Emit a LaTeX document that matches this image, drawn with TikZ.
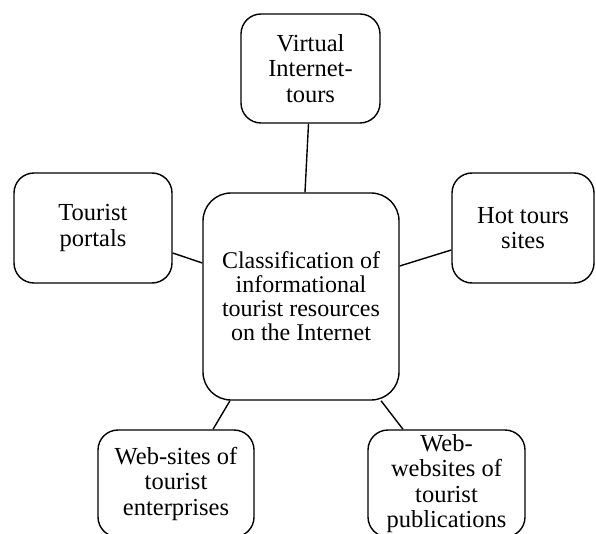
\documentclass[tikz,border=0pt]{standalone}
\usepackage{fontspec}
\setmainfont{Liberation Serif}
\usetikzlibrary{calc}
\begin{document}
\begin{tikzpicture}[x=1pt,y=-1pt,
  box/.style={draw, line width=1.4pt, rounded corners=20pt, align=center,
    inner sep=0pt, font=\fontsize{24.5}{25.5}\selectfont},
  link/.style={line width=1.4pt}]
\useasboundingbox (0,0) rectangle (596,534);
\clip (0,0) rectangle (596,534);
% outer topics
\node[box, minimum width=139pt, minimum height=109pt] (virt) at (310.5,68.5) {Virtual\\Internet-\\tours};
\node[box, minimum width=158pt, minimum height=110pt] (portals) at (93,228) {Tourist\\portals};
\node[box, minimum width=142pt, minimum height=110pt] (hot) at (523,228) {Hot tours\\sites};
\node[box, minimum width=156pt, minimum height=107pt] (ent) at (176,483.5) {Web-sites of\\tourist\\enterprises};
\node[box, minimum width=157pt, minimum height=107pt] (pub) at (446.5,483.5) {Web-\\websites of\\tourist\\publications};
% central topic
\node[box, rounded corners=28pt, minimum width=196pt, minimum height=207pt,
  font=\fontsize{24}{24}\selectfont] (core) at (301,296.5)
  {Classification of\\informational\\tourist resources\\on the Internet};
% connectors
\draw[link] ($(virt.south)+(-2,0)$) -- ($(core.north)+(4,0)$);
\draw[link] ($(portals.east)+(0,25)$) -- ($(core.west)+(0,-33.5)$);
\draw[link] ($(core.east)+(0,-30.5)$) -- ($(hot.west)+(0,22)$);
\draw[link] ($(core.south)+(-71,0)$) -- ($(ent.north)+(37,0)$);
\draw[link] ($(core.south)+(80,0)$) -- ($(pub.north)+(-43.5,0)$);
\end{tikzpicture}
\end{document}
